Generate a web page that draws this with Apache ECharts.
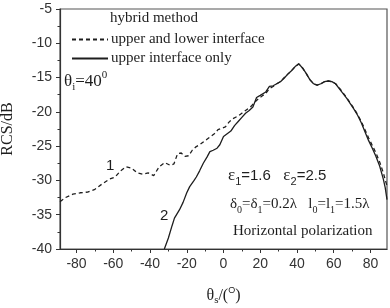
<!DOCTYPE html>
<html><head><meta charset="utf-8">
<script src="https://cdn.jsdelivr.net/npm/echarts@6/dist/echarts.min.js"></script>
<style>html,body{margin:0;padding:0;background:#fff}#c{width:390px;height:308px}</style>
</head><body><div id="c"></div>
<script>
// ---- data ----
const xMajorTicks = [-80, -60, -40, -20, 0, 20, 40, 60, 80];
const xMinorTicks = [-70, -50, -30, -10, 10, 30, 50, 70];
const yTicks = [-40, -35, -30, -25, -20, -15, -10, -5];

const seriesNames = ['upper and lower interface', 'upper interface only'];

const upperLowerAngles = [-89, -86, -82, -78, -74, -70, -66, -62, -59, -56, -53, -50, -47, -44, -41, -38, -35, -32, -29, -27, -25, -23, -21, -19, -17, -15, -13, -11, -9, -7, -5, -3, -1, 1, 3, 5, 8, 10, 12, 15, 17, 19, 21, 23, 25, 27, 29, 31, 33, 35, 37, 39, 41, 43, 45, 47, 49, 51, 53, 55, 57, 59, 61, 63, 65, 67, 69, 71, 73, 75, 77, 79, 81, 83, 85, 87, 89];
const upperLowerRCS = [-33.1, -32.5, -32.0, -31.8, -31.7, -31.3, -30.5, -29.8, -29.5, -28.6, -28.0, -28.2, -28.9, -29.1, -28.9, -29.3, -28.0, -27.4, -27.8, -27.6, -26.1, -26.0, -26.5, -26.4, -25.6, -25.1, -24.8, -24.4, -24.0, -23.6, -23.2, -22.6, -22.4, -22.2, -21.5, -21.0, -20.6, -20.2, -19.8, -19.2, -18.6, -18.1, -17.7, -17.3, -16.6, -16.3, -15.9, -15.6, -15.0, -14.5, -14.0, -13.4, -13.0, -13.6, -14.4, -15.3, -15.9, -16.1, -15.9, -15.6, -15.5, -15.6, -15.9, -16.5, -17.2, -17.9, -18.7, -19.5, -20.4, -21.4, -22.6, -23.8, -24.9, -26.0, -27.3, -28.9, -30.8];

const upperOnlyAngles = [-32.2, -30, -28, -26.7, -24, -22, -20, -18.4, -16, -14.8, -13, -11, -9, -7.4, -5.6, -3.5, -2, 0, 2, 4, 6, 8, 10, 12, 14, 16, 18, 20, 23, 25, 27, 29, 31, 33, 35, 37, 39, 41, 43, 45, 47, 49, 51, 53, 55, 57, 59, 61, 63, 65, 67, 69, 71, 73, 75, 77, 79, 81, 83, 85, 87, 88, 89];
const upperOnlyRCS = [-40.0, -38.4, -36.6, -35.5, -34.3, -33.2, -31.8, -30.9, -30.0, -29.5, -28.6, -27.5, -26.6, -25.8, -25.6, -25.3, -24.8, -23.6, -23.2, -22.8, -22.0, -21.4, -20.8, -20.2, -19.8, -19.3, -17.9, -17.6, -17.1, -16.3, -16.2, -15.9, -15.6, -15.1, -14.5, -14.0, -13.4, -13.0, -13.6, -14.4, -15.3, -15.9, -16.1, -15.9, -15.6, -15.5, -15.6, -15.9, -16.6, -17.3, -18.0, -18.8, -19.6, -20.5, -21.6, -22.9, -24.2, -25.3, -26.5, -27.9, -29.8, -31.0, -32.8];

const pairs = (xs, ys) => xs.map((x, i) => [x, ys[i]]);

const SERIF = '"Liberation Serif", "DejaVu Serif", serif';
const SANS = '"Liberation Sans", Arial, sans-serif';
const INK = '#1e1e1e';

const chart = echarts.init(document.getElementById('c'), null, {renderer: 'canvas'});

chart.setOption({
  animation: false,
  backgroundColor: '#fff',
  grid: {left: 60, top: 9, right: 3, bottom: 59, show: true, borderColor: '#555', borderWidth: 1.2,
         containLabel: false, outerBoundsMode: 'none'},
  legend: {
    orient: 'vertical', left: 66, top: 27,
    itemWidth: 36, itemHeight: 14, itemGap: 4,
    itemStyle: {opacity: 0},
    textStyle: {fontFamily: SERIF, fontSize: 15, color: INK, padding: [0, 0, 0, -2]},
    data: seriesNames
  },
  xAxis: [{
    type: 'value', min: -89, max: 89,
    name: '{t|θ}{s|s}{t|/(}{o|O}{t|)}',
    nameLocation: 'middle', nameGap: 36,
    nameTextStyle: {
      rich: {
        t: {fontFamily: SERIF, fontSize: 16, color: INK},
        s: {fontFamily: SERIF, fontSize: 11, color: INK, padding: [10, 0, 0, 0]},
        o: {fontFamily: SANS, fontSize: 9, color: INK, padding: [0, 0, 10, 0]}
      }
    },
    splitLine: {show: false},
    axisLine: {onZero: false, lineStyle: {color: '#333', width: 1.2}},
    axisTick: {show: true, length: 4, customValues: xMajorTicks, lineStyle: {color: '#333'}},
    axisLabel: {customValues: xMajorTicks, fontFamily: SANS, fontSize: 14, color: '#333', margin: 8}
  }, {
    type: 'value', min: -89, max: 89, position: 'bottom', gridIndex: 0,
    splitLine: {show: false},
    axisLine: {show: false, onZero: false},
    axisTick: {show: true, length: 2.5, customValues: xMinorTicks, lineStyle: {color: '#333'}},
    axisLabel: {show: false}
  }],
  yAxis: {
    type: 'value', min: -40, max: -5, interval: 5,
    name: 'RCS/dB', nameLocation: 'middle', nameGap: 44,
    nameTextStyle: {fontFamily: SERIF, fontSize: 16, color: INK},
    splitLine: {show: false},
    axisLine: {onZero: false, lineStyle: {color: '#333', width: 1.2}},
    axisTick: {length: 4, lineStyle: {color: '#333'}},
    minorTick: {show: true, splitNumber: 2, length: 2.5, lineStyle: {color: '#333'}},
    axisLabel: {fontFamily: SANS, fontSize: 14, color: '#333', margin: 8}
  },
  series: [{
    name: seriesNames[0], type: 'line', symbol: 'none',
    data: pairs(upperLowerAngles, upperLowerRCS),
    lineStyle: {color: INK, width: 1.3, type: [4, 3]},
    itemStyle: {color: INK}
  }, {
    name: seriesNames[1], type: 'line', symbol: 'none',
    data: pairs(upperOnlyAngles, upperOnlyRCS),
    lineStyle: {color: INK, width: 1.3, type: 'solid'},
    itemStyle: {color: INK}
  }],
  graphic: [
    {type: 'text', left: 110, top: 11, style: {text: 'hybrid method', font: '15px ' + SERIF, fill: INK}},
    {type: 'text', left: 64, top: 70, style: {
      text: '{t|θ}{s|i}{t|=40}{o|0}',
      rich: {
        t: {fontFamily: SERIF, fontSize: 17, fill: INK},
        s: {fontFamily: SERIF, fontSize: 11, fill: INK, padding: [12, 0, 0, 0]},
        o: {fontFamily: SERIF, fontSize: 11, fill: INK, padding: [0, 0, 12, 0]}
      }}},
    {type: 'text', left: 106, top: 158, style: {text: '1', font: '15px ' + SANS, fill: INK}},
    {type: 'text', left: 160, top: 208, style: {text: '2', font: '15px ' + SANS, fill: INK}},
    {type: 'text', left: 228, top: 167, style: {
      text: '{e|ε}{s|1}{n|=1.6   }{e|ε}{s|2}{n|=2.5}',
      rich: {
        e: {fontFamily: SERIF, fontSize: 17, fill: INK},
        s: {fontFamily: SANS, fontSize: 11, fill: INK, padding: [12, 0, 0, 0]},
        n: {fontFamily: SANS, fontSize: 15, fill: INK}
      }}},
    {type: 'text', left: 230, top: 197, style: {
      text: '{t|δ}{s|0}{t|=δ}{s|1}{t|=0.2λ   l}{s|0}{t|=l}{s|1}{t|=1.5λ}',
      rich: {
        t: {fontFamily: SERIF, fontSize: 15, fill: INK},
        s: {fontFamily: SERIF, fontSize: 10, fill: INK, padding: [11, 0, 0, 0]}
      }}},
    {type: 'text', left: 233, top: 224, style: {text: 'Horizontal polarization', font: '15px ' + SERIF, fill: INK}}
  ]
});
</script>
</body></html>
